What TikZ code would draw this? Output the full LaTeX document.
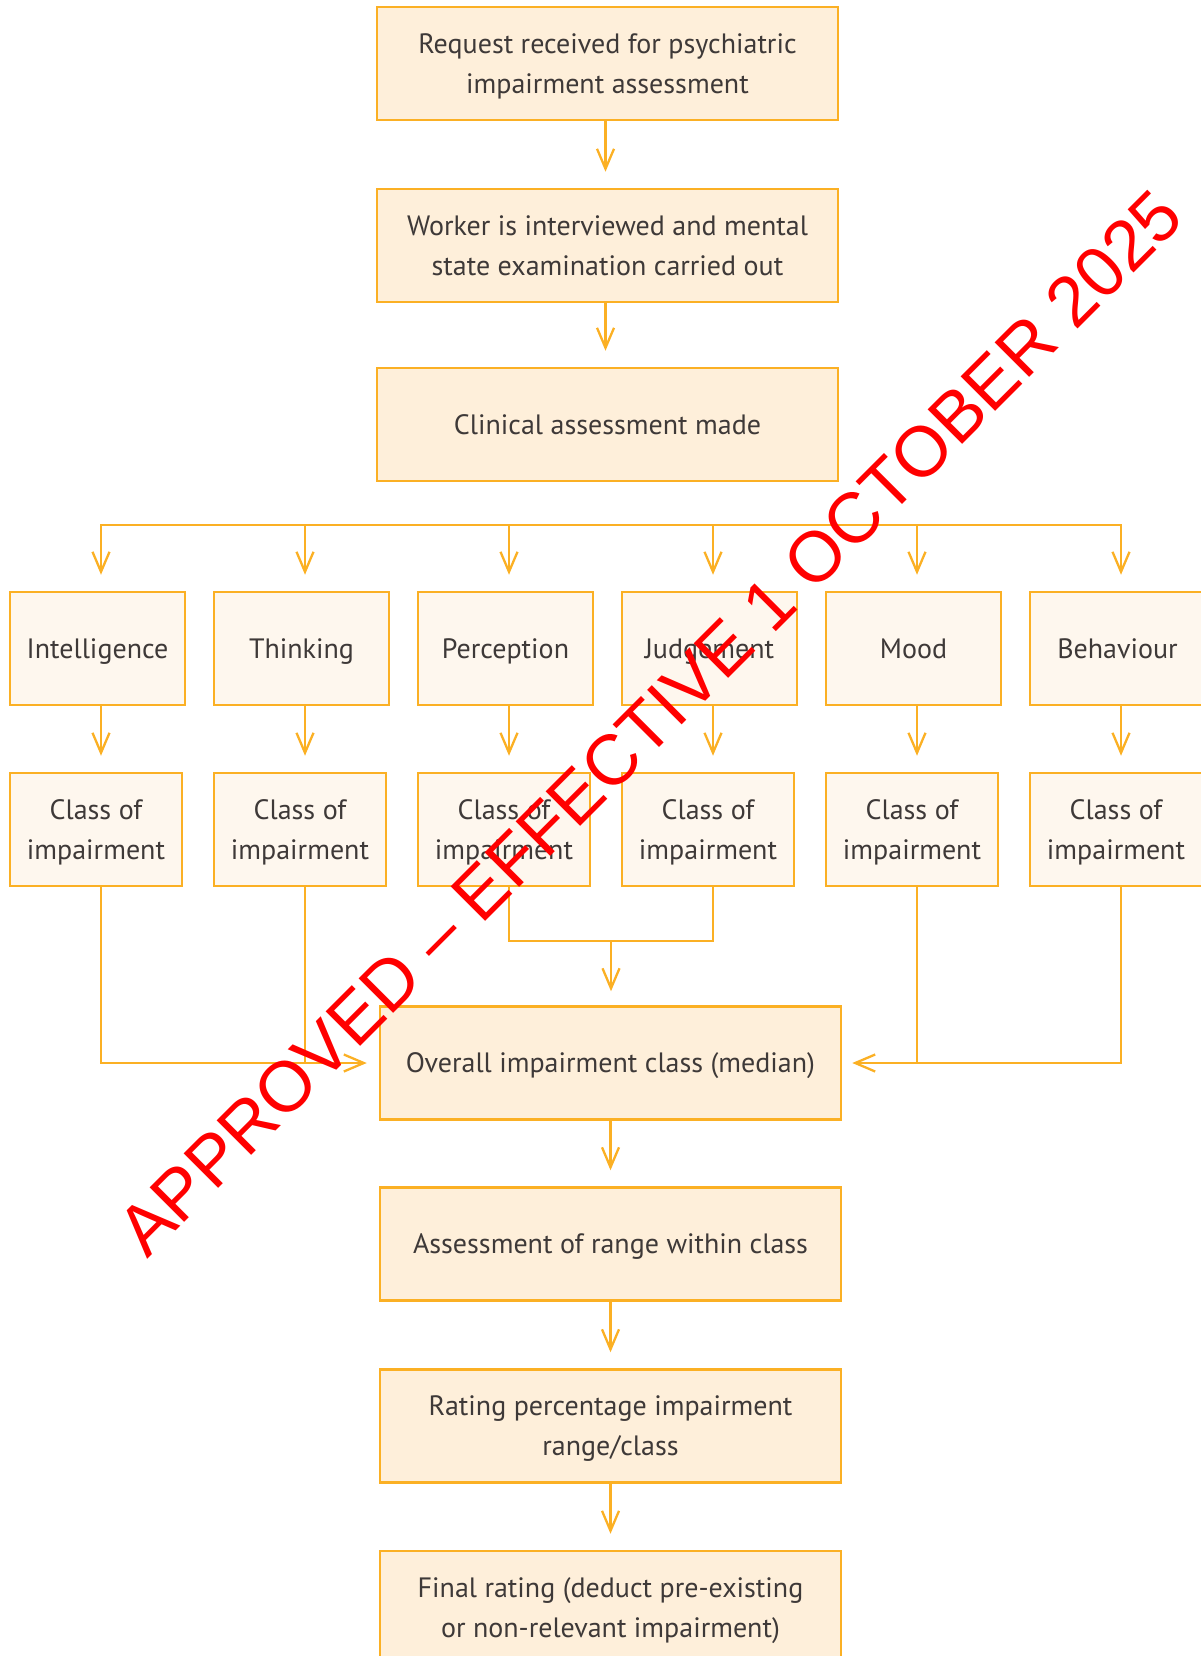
\documentclass[tikz,border=0pt]{standalone}
\usepackage{fontspec}
\setmainfont{PT Sans}
\newfontfamily\stampfont{Liberation Sans}
\usetikzlibrary{arrows.meta,calc}
\definecolor{boxline}{HTML}{FBB024}
\definecolor{boxfill}{HTML}{FEEFDA}
\definecolor{cellfill}{HTML}{FEF7EE}
\definecolor{inktext}{HTML}{3E3938}

\begin{document}
\begin{tikzpicture}[x=1pt,y=-1pt,
    every node/.style={align=center,text=inktext,text depth=0pt,font=\fontsize{28}{40}\selectfont},
    mainbox/.style={draw=boxline,line width=2.5pt,fill=boxfill,minimum width=461pt,minimum height=113pt,inner sep=0pt},
    cellbox/.style={draw=boxline,line width=2.5pt,fill=cellfill,minimum width=175pt,minimum height=113pt,inner sep=0pt},
    link/.style={draw=boxline,line width=2.3pt},
    flow/.style={link,-{Straight Barb[length=20pt,width=17pt]},shorten >=16pt}]
    \useasboundingbox (0,0) rectangle (1201,1656);
    %% upper chain
    \node[mainbox] (request) at (607.5,63.5) {Request received for psychiatric\\impairment assessment};
    \node[mainbox] (interview) at (607.5,245.5) {Worker is interviewed and mental\\state examination carried out};
    \node[mainbox] (clinical) at (607.5,424.5) {Clinical assessment made};
    \draw[flow] ([xshift=-2pt]request.south) -- ([xshift=-2pt]interview.north);
    \draw[flow] ([xshift=-2pt]interview.south) -- ([xshift=-2pt]clinical.north);
    \coordinate (fork) at (605.5,525);
    %% the six aspects and their classes
    \foreach \n/\t [count=\i from 0] in {int/Intelligence,thi/Thinking,per/Perception,jud/Judgement,moo/Mood,beh/Behaviour}{
        \node[cellbox] (\n) at (97.5+204*\i,648.5) {\t};
        \node[cellbox,minimum width=172pt] (\n-c) at (96+204*\i,829.5) {Class of\\impairment};
        \draw[flow] (fork -| clinical.south) -- (fork) -| ([xshift=3.5pt]\n.north);
        \draw[flow] ([xshift=3.5pt]\n.south) -- ([xshift=3.5pt]\n.south |- \n-c.north);
    }
    %% lower chain
    \node[mainbox] (overall) at (610.5,1063) {Overall impairment class (median)};
    \node[mainbox] (range) at (610.5,1244) {Assessment of range within class};
    \node[mainbox] (rating) at (610.5,1426) {Rating percentage impairment\\range/class};
    \node[mainbox] (final) at (610.5,1607.5) {Final rating (deduct pre-existing\\or non-relevant impairment)};
    %% classes into the median
    \coordinate (join) at ($(per-c.south)!.5!(jud-c.south)+(5,54)$);
    \draw[link] ([xshift=5pt]per-c.south) |- (join) -| ([xshift=5pt]jud-c.south);
    \draw[flow,shorten >=14pt] (join) -- (join |- overall.north);
    \draw[flow,shorten >=12pt] ([xshift=5pt]int-c.south) |- (overall.west);
    \draw[link] ([xshift=5pt]thi-c.south) -- ([xshift=5pt]thi-c.south |- overall.west);
    \draw[flow,shorten >=10pt] ([xshift=5pt]beh-c.south) |- (overall.east);
    \draw[link] ([xshift=5pt]moo-c.south) -- ([xshift=5pt]moo-c.south |- overall.east);
    \draw[flow] (overall) -- (range);
    \draw[flow] (range) -- (rating);
    \draw[flow] (rating) -- (final);
    %% stamp
    \node[text=red,font=\stampfont\fontsize{71}{71}\selectfont,rotate=45,anchor=base,inner sep=0pt] (stamp) at (667,740) {APPROVED – EFFECTIVE 1 OCTOBER 2025};
\end{tikzpicture}
\end{document}
